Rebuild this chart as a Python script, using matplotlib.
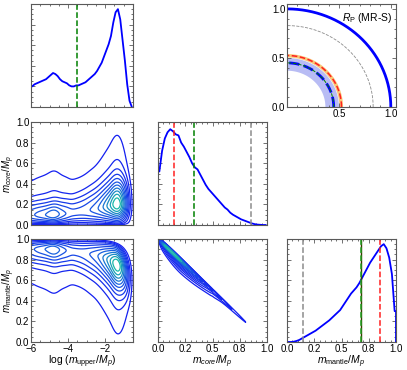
import numpy as np
import matplotlib
matplotlib.use('Agg')
import matplotlib.pyplot as plt
from matplotlib.ticker import MultipleLocator, FormatStrFormatter, NullFormatter
from matplotlib.colors import LinearSegmentedColormap

plt.rcParams['font.family'] = ['Liberation Sans', 'DejaVu Sans']
plt.rcParams['mathtext.fontset'] = 'custom'
plt.rcParams['mathtext.rm'] = 'Liberation Sans'
plt.rcParams['mathtext.it'] = 'Liberation Sans:italic'

# ---- marginal histograms ----
logu_centers = np.arange(-5.9375, -0.5, 0.125)
logu_hist = [0.20, 0.22, 0.23, 0.24, 0.25, 0.26, 0.27, 0.29, 0.31, 0.33, 0.32,
             0.30, 0.27, 0.25, 0.24, 0.23, 0.21, 0.20, 0.20, 0.21, 0.21, 0.22,
             0.23, 0.24, 0.26, 0.28, 0.30, 0.32, 0.35, 0.39, 0.43, 0.49, 0.55,
             0.61, 0.69, 0.82, 0.92, 0.95, 0.85, 0.65, 0.45, 0.22, 0.06, 0.0]

frac_centers = np.arange(0.0125, 1.0, 0.025)
core_hist = [0.52, 0.72, 0.84, 0.90, 0.93, 0.91, 0.88, 0.87, 0.80, 0.76,
             0.71, 0.66, 0.60, 0.56, 0.54, 0.49, 0.44, 0.39, 0.35, 0.32,
             0.29, 0.26, 0.23, 0.20, 0.17, 0.15, 0.12, 0.10, 0.085, 0.07,
             0.055, 0.045, 0.035, 0.025, 0.015, 0.008, 0.004, 0.002, 0.0, 0.0]
mantle_hist = [0.0, 0.0, 0.003, 0.01, 0.02, 0.035, 0.05, 0.065, 0.08, 0.095,
               0.11, 0.13, 0.15, 0.17, 0.19, 0.21, 0.235, 0.26, 0.285, 0.31,
               0.35, 0.39, 0.43, 0.47, 0.50, 0.53, 0.57, 0.62, 0.67, 0.72,
               0.77, 0.81, 0.85, 0.89, 0.93, 0.95, 0.91, 0.82, 0.66, 0.30]

# reference values (vertical dashed lines)
logu_green = -3.5
core_red, core_green, core_gray = 0.15, 0.33, 0.85
mantle_gray, mantle_green, mantle_red = 0.15, 0.68, 0.85

# ---- core fraction given log m_upper: shape ----
node_x = [-6.0, -4.9, -3.7, -2.5, -1.5, -0.5]
mode_y = [0.10, 0.10, 0.12, 0.16, 0.21, 0.21]
sig_lo = [0.06, 0.06, 0.07, 0.09, 0.11, 0.11]
sig_hi = [0.08, 0.08, 0.09, 0.12, 0.14, 0.14]
tail_a = [0.40, 0.40, 0.40, 0.38, 0.38, 0.38]
tail_tau = [0.21, 0.21, 0.22, 0.24, 0.26, 0.26]
core_edge = 0.02
contour_fracs = [0.03, 0.08, 0.14, 0.21, 0.29, 0.38, 0.47, 0.57, 0.67, 0.78, 0.89]
line_fracs = [0.02, 0.035, 0.055, 0.08, 0.11, 0.15, 0.2, 0.27, 0.36, 0.48, 0.65]

# ---- radius panel ----
r_total = 1.0
r_gray = 0.83
r_red, r_orange_lo, r_orange_hi = 0.525, 0.505, 0.54
r_blue, r_blue_lo, r_blue_hi = 0.45, 0.37, 0.50


def joint(x, c):
    px = np.interp(x, logu_centers, logu_hist, left=logu_hist[0], right=0.0)
    mo = np.interp(x, node_x, mode_y)
    sl = np.interp(x, node_x, sig_lo)
    sh = np.interp(x, node_x, sig_hi)
    a = np.interp(x, node_x, tail_a)
    tau = np.interp(x, node_x, tail_tau)
    d = c - mo
    g = np.where(d < 0, np.exp(-0.5 * (d / sl) ** 2),
                 (1 - a) * np.exp(-0.5 * (d / sh) ** 2) + a * np.exp(-np.clip(d, 0, None) / tau))
    norm = np.sqrt(np.pi / 2) * (sl + (1 - a) * sh) + a * tau
    g = g / norm * (1 - np.exp(-np.clip(c, 0, None) / core_edge)) * (c > 0)
    return px * g


def smooth(a, sig_r, sig_c):
    def kern(sig):
        k = np.arange(-int(4 * sig), int(4 * sig) + 1)
        k = np.exp(-0.5 * (k / sig) ** 2)
        return k / k.sum()
    kr, kc = kern(sig_r), kern(sig_c)
    a = np.apply_along_axis(lambda v: np.convolve(v, kr, mode='same'), 0, a)
    a = np.apply_along_axis(lambda v: np.convolve(v, kc, mode='same'), 1, a)
    return a


cmap = LinearSegmentedColormap.from_list('bt', ['#1420f0', '#1a60e0', '#18b8a8'])
lw_c = 0.9

W, H = 407, 370
def rect(l, t, w, h):
    return [l / W, 1 - (t + h) / H, w / W, h / H]

fig = plt.figure(figsize=(W / 100, H / 100), dpi=100)
cols = [(31, 102), (158, 109), (287, 109)]
rows = [4, 122, 239]
rh = 103

ax00 = fig.add_axes(rect(cols[0][0], rows[0], cols[0][1], rh))
ax02 = fig.add_axes(rect(cols[2][0], rows[0], cols[2][1], rh))
ax10 = fig.add_axes(rect(cols[0][0], rows[1], cols[0][1], rh))
ax11 = fig.add_axes(rect(cols[1][0], rows[1], cols[1][1], rh))
ax20 = fig.add_axes(rect(cols[0][0], rows[2], cols[0][1], rh))
ax21 = fig.add_axes(rect(cols[1][0], rows[2], cols[1][1], rh))
ax22 = fig.add_axes(rect(cols[2][0], rows[2], cols[2][1], rh))

for ax in [ax00, ax02, ax10, ax11, ax20, ax21, ax22]:
    ax.tick_params(which='both', direction='in', top=True, right=True,
                   labelsize=7, color='0.35', width=0.6, pad=1.2)
    ax.tick_params(which='major', length=3)
    ax.tick_params(which='minor', length=1.5)
    for s in ax.spines.values():
        s.set_color('0.35')
        s.set_linewidth(0.8)

# top-left histogram
ax00.plot(np.r_[-6.0, logu_centers], np.r_[logu_hist[0], logu_hist], color='blue', lw=1.3)
ax00.axvline(logu_green, color='green', ls='--', lw=1.1)
ax00.set_xlim(-6, -0.5)
ax00.set_ylim(0, 1.0)

# joint density grids (smoothed like a KDE)
xg = np.linspace(-7.5, 0.0, 376)
dx = xg[1] - xg[0]
cg = np.linspace(0, 1.02, 300)
X, C = np.meshgrid(xg, cg)
D = smooth(joint(X, C), 1.5, 0.12 / dx)
ax10.contour(X, C, D, levels=np.array(contour_fracs) * D.max(), cmap=cmap, linewidths=lw_c)
ax10.set_xlim(-6, -0.5)
ax10.set_ylim(0, 1)

mg = np.linspace(0, 1.0, 300)
X2, M2 = np.meshgrid(xg, mg)
D2 = smooth(joint(X2, 1 - M2 - 10 ** X2), 1.5, 0.12 / dx)
ax20.contour(X2, M2, D2, levels=np.array(contour_fracs) * D2.max(),
             cmap=cmap, linewidths=lw_c)
ax20.set_xlim(-6, -0.5)
ax20.set_ylim(0, 1)

# mantle vs core
xf = np.linspace(-7, -0.3, 700)
cf = np.linspace(0, 1, 500)
XF, CF = np.meshgrid(xf, cf)
WF = joint(XF, CF)
MF = 1 - CF - 10 ** XF
bins = np.linspace(0, 1, 201)
Hc, _, _ = np.histogram2d(CF.ravel(), MF.ravel(), bins=[bins, bins], weights=WF.ravel())
Hc = smooth(Hc, 1.5, 1.5)
centers = 0.5 * (bins[1:] + bins[:-1])
ax21.contour(centers, centers, Hc.T, levels=np.array(line_fracs) * Hc.max(),
             cmap=cmap, linewidths=lw_c)
ax21.set_xlim(0, 1)
ax21.set_ylim(0, 1)

# core histogram
ax11.plot(np.r_[0, 0, frac_centers], np.r_[0, core_hist[0], core_hist], color='blue', lw=1.3)
ax11.axvline(core_red, color='#ff2020', ls='--', lw=1.1)
ax11.axvline(core_green, color='green', ls='--', lw=1.1)
ax11.axvline(core_gray, color='0.55', ls='--', lw=1.1)
ax11.set_xlim(0, 1)
ax11.set_ylim(0, 1.0)

# mantle histogram
ax22.plot(np.r_[frac_centers, 1, 1], np.r_[mantle_hist, mantle_hist[-1], 0], color='blue', lw=1.3)
ax22.axvline(mantle_gray, color='0.55', ls='--', lw=1.1)
ax22.axvline(mantle_green, color='#3a3a00', ls='-', lw=1.0)
ax22.axvline(mantle_green, color='#20a020', ls='--', lw=1.1)
ax22.axvline(mantle_red, color='#ff2020', ls='--', lw=1.1)
ax22.set_xlim(0, 1)
ax22.set_ylim(0, 1.0)

# radius panel
th = np.linspace(0, np.pi / 2, 200)
def arc(ax, r, **kw):
    ax.plot(r * np.cos(th), r * np.sin(th), **kw)
def band(ax, r1, r2, **kw):
    xs = np.concatenate([r2 * np.cos(th), r1 * np.cos(th[::-1])])
    ys = np.concatenate([r2 * np.sin(th), r1 * np.sin(th[::-1])])
    ax.fill(xs, ys, lw=0, **kw)

band(ax02, r_blue_lo, r_blue_hi, color='#b8bcf4')
band(ax02, r_orange_lo, r_orange_hi, color='#f8c878')
arc(ax02, r_red, color='#ff2020', ls='--', lw=1.1)
arc(ax02, r_blue, color='blue', ls='--', lw=2.0)
arc(ax02, r_blue, color='green', ls='--', lw=0.7)
arc(ax02, r_gray, color='0.55', ls='--', lw=0.6)
arc(ax02, r_total, color='blue', lw=2.0)
ax02.text(0.97, 0.86, r'$R_{\rm P}$ (MR-S)', transform=ax02.transAxes,
          ha='right', va='center', fontsize=7.5)
ax02.set_xlim(0, 1.05)
ax02.set_ylim(0, 1.05)

# ticks
for ax in [ax00, ax10, ax20]:
    ax.xaxis.set_major_locator(MultipleLocator(2))
    ax.xaxis.set_minor_locator(MultipleLocator(0.5))
for ax in [ax11, ax21, ax22]:
    ax.xaxis.set_major_locator(MultipleLocator(0.25))
    ax.xaxis.set_minor_locator(MultipleLocator(0.05))
    ax.xaxis.set_major_formatter(FormatStrFormatter('%.1f'))
for ax in [ax00, ax10, ax11, ax20, ax21, ax22]:
    ax.yaxis.set_major_locator(MultipleLocator(0.2))
    ax.yaxis.set_minor_locator(MultipleLocator(0.05))
    ax.yaxis.set_major_formatter(FormatStrFormatter('%.1f'))
ax02.xaxis.set_major_locator(MultipleLocator(0.5))
ax02.yaxis.set_major_locator(MultipleLocator(0.5))
ax02.xaxis.set_minor_locator(MultipleLocator(0.1))
ax02.yaxis.set_minor_locator(MultipleLocator(0.1))
ax02.xaxis.set_major_formatter(FormatStrFormatter('%.1f'))
ax02.yaxis.set_major_formatter(FormatStrFormatter('%.1f'))
ax02.set_xticks([0.5, 1.0])

for ax in [ax00, ax10, ax11]:
    ax.xaxis.set_major_formatter(NullFormatter())
for ax in [ax00, ax11, ax21, ax22]:
    ax.yaxis.set_major_formatter(NullFormatter())

ax10.set_ylabel(r'$m_{core}/M_p$', fontsize=7)
ax20.set_ylabel(r'$m_{\rm mantle}/M_p$', fontsize=7)
for ax in [ax10, ax20]:
    ax.yaxis.set_label_coords(-0.14, 0.5)
ax20.set_xlabel(r'log ($m_{\rm upper}/M_p$)', fontsize=7.5, labelpad=0)
ax21.set_xlabel(r'$m_{core}/M_p$', fontsize=7.5, labelpad=0)
ax22.set_xlabel(r'$m_{\rm mantle}/M_p$', fontsize=7.5, labelpad=0)

fig.savefig('out.png', dpi=100)
